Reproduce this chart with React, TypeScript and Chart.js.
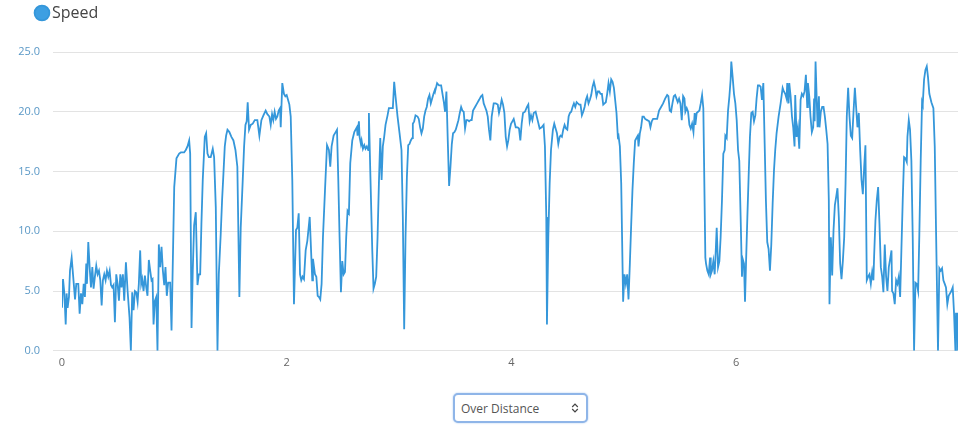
import React, { useEffect, useRef } from "react";
import { Chart, registerables } from "chart.js";

Chart.register(...registerables);

// Distance (x) values
const distance = [
  0.000,0.009,0.021,0.033,0.041,0.050,0.062,0.071,0.086,0.098,
  0.116,0.127,0.145,0.157,0.169,0.181,0.193,0.204,0.216,0.222,
  0.234,0.246,0.258,0.270,0.281,0.293,0.305,0.317,0.329,0.341,
  0.353,0.364,0.376,0.388,0.400,0.412,0.424,0.436,0.447,0.459,
  0.471,0.483,0.495,0.507,0.519,0.530,0.542,0.554,0.569,0.584,
  0.601,0.613,0.625,0.637,0.649,0.661,0.673,0.684,0.696,0.705,
  0.714,0.726,0.738,0.750,0.761,0.773,0.785,0.797,0.806,0.815,
  0.827,0.839,0.850,0.862,0.874,0.886,0.898,0.910,0.921,0.933,
  0.945,0.963,0.975,0.999,1.019,1.043,1.058,1.073,1.087,1.102,
  1.117,1.132,1.141,1.153,1.164,1.176,1.191,1.206,1.218,1.230,
  1.241,1.253,1.271,1.283,1.295,1.307,1.324,1.342,1.354,1.369,
  1.384,1.396,1.413,1.425,1.437,1.449,1.461,1.473,1.490,1.508,
  1.526,1.544,1.561,1.579,1.591,1.609,1.621,1.633,1.644,1.653,
  1.665,1.680,1.698,1.716,1.739,1.757,1.775,1.793,1.813,1.828,
  1.846,1.858,1.870,1.881,1.893,1.905,1.917,1.929,1.941,1.947,
  1.961,1.976,1.988,2.000,2.012,2.024,2.036,2.050,2.065,2.083,
  2.095,2.107,2.119,2.130,2.142,2.154,
  2.169,2.184,2.205,2.228,2.234,2.252,2.264,2.276,2.288,2.299,
  2.311,2.323,2.341,2.359,2.376,2.388,2.400,2.418,2.436,2.448,
  2.459,2.471,2.483,2.495,2.507,2.519,2.530,2.542,2.554,2.566,
  2.584,2.602,2.613,2.625,2.631,2.643,2.649,2.661,2.667,2.679,
  2.691,2.702,2.714,2.726,2.732,2.744,2.762,2.773,2.785,2.797,
  2.809,2.821,2.833,2.845,2.856,2.868,2.880,2.898,2.910,2.928,
  2.945,2.957,2.969,2.987,3.005,3.022,3.034,3.046,3.058,3.070,
  3.082,3.093,3.105,3.117,3.123,3.135,3.147,3.165,3.176,3.188,
  3.200,3.212,3.224,3.236,3.247,3.259,3.271,3.283,3.295,3.307,
  3.318,
  3.321,3.339,3.357,3.375,3.387,3.399,3.410,3.422,3.434,3.446,
  3.458,3.470,3.481,3.493,3.505,3.517,3.529,3.541,3.553,3.564,
  3.576,3.588,3.600,3.612,3.624,3.636,3.647,3.659,3.677,3.695,
  3.713,3.730,3.742,3.754,3.766,3.778,3.790,3.801,3.813,3.825,
  3.843,3.861,3.879,3.890,3.902,3.914,3.926,3.938,3.950,3.962,
  3.973,3.985,3.997,4.009,4.021,4.039,4.056,4.068,4.080,4.092,
  4.104,4.121,4.139,4.151,4.163,4.175,4.187,4.199,4.216,4.234,
  4.252,4.270,4.287,4.299,4.311,4.317,4.329,4.341,4.353,4.370,
  4.382,4.394,4.406,4.418,4.430,
  4.438,4.450,4.462,4.474,4.486,4.498,4.510,4.521,4.533,4.545,
  4.557,4.569,4.581,4.592,4.604,4.616,4.628,4.640,4.652,4.664,
  4.675,4.687,4.699,4.711,4.723,4.735,4.747,4.758,4.770,4.782,
  4.794,4.806,4.818,4.830,4.841,4.853,4.865,4.877,4.889,4.901,
  4.913,4.924,4.936,4.948,4.954,4.966,4.978,4.990,4.995,5.007,
  5.019,5.031,5.043,5.055,5.067,5.078,5.090,5.102,5.114,5.126,
  5.132,5.144,5.155,5.167,5.179,5.191,5.209,5.227,5.238,5.250,
  5.262,5.280,5.298,5.315,5.333,5.351,5.369,5.387,5.398,5.410,
  5.422,5.434,5.446,5.458,5.470,5.481,5.493,5.505,5.517,5.529,
  5.541,
  5.549,5.561,5.573,5.585,5.597,5.609,5.621,5.632,5.638,5.650,
  5.662,5.674,5.686,5.698,5.709,5.727,5.733,5.745,5.757,5.769,
  5.775,5.786,5.798,5.810,5.816,5.828,5.840,5.852,5.863,5.875,
  5.887,5.899,5.905,5.917,5.929,5.941,5.952,5.958,5.970,5.982,
  5.994,6.006,6.018,6.029,6.041,6.053,6.059,6.071,6.080,6.089,
  6.101,6.112,6.124,6.136,6.148,6.160,6.172,6.183,6.195,6.207,
  6.219,6.231,6.243,6.255,6.266,6.278,6.290,6.302,6.314,6.326,
  6.338,6.349,6.361,6.379,6.397,6.415,6.426,6.438,6.450,6.456,
  6.468,6.474,6.486,6.498,6.509,6.521,6.527,6.539,6.551,6.563,
  6.575,6.586,6.598,6.610,6.622,6.634,6.640,6.652,6.663,6.675,
  6.687,6.695,6.700,6.708,
  6.726,6.738,6.743,6.755,6.767,6.779,6.791,6.803,6.815,6.826,
  6.832,6.844,6.856,6.868,6.880,6.892,6.903,6.915,6.927,6.939,
  6.951,6.963,6.975,6.986,6.998,7.010,7.022,7.034,7.046,7.058,
  7.069,7.081,7.093,7.105,7.117,7.129,7.141,7.152,7.164,7.176,
  7.188,7.200,7.212,7.223,7.229,7.241,7.253,7.265,7.277,7.289,
  7.301,7.312,7.324,7.336,7.348,7.360,7.372,7.384,7.389,7.401,
  7.413,7.425,7.437,7.449,7.461,7.472,7.484,7.496,7.508,7.520,
  7.526,7.538,7.549,7.561,7.573,7.585,7.597,7.609,7.621,7.632,
  7.644,7.656,7.662,7.674,7.686,7.698,7.709,7.721,7.739,7.757,
  7.769,7.781,7.798,7.810,7.822,7.834,7.846,7.858,7.869,7.881,
  7.893,7.905,7.917,7.929,7.941,7.953,7.958,7.970,7.976,
];

// Speed (y) values
const speed = [
  3.6,6.0,4.8,2.2,4.8,3.6,4.5,6.7,7.8,6.4,
  4.3,5.6,5.6,3.1,4.8,3.9,5.6,4.5,7.3,5.6,
  9.1,7.0,5.3,7.0,5.2,6.2,7.1,6.4,6.7,5.9,
  3.8,5.9,6.4,5.9,6.7,6.2,6.7,5.5,5.3,5.5,
  2.4,6.4,5.6,4.2,6.4,5.3,6.4,4.2,7.4,5.0,
  2.8,0.0,4.9,3.4,5.0,4.9,4.1,5.6,8.4,5.6,
  6.0,5.0,6.3,5.3,4.6,7.6,6.7,5.9,6.0,2.2,
  4.2,4.5,0.0,8.9,7.0,8.7,6.7,5.5,7.0,4.6,
  5.7,5.7,1.7,13.7,16.1,16.5,16.6,16.6,16.6,16.8,
  17.1,17.6,16.5,1.9,6.7,10.5,11.6,5.5,6.4,6.4,
  10.6,14.3,17.9,18.2,16.5,16.2,16.2,16.9,16.2,12.0,
  0.0,6.4,9.8,12.6,14.8,17.1,18.0,18.5,18.3,17.9,
  17.6,16.8,15.4,4.5,10.3,14.3,17.1,18.9,19.2,20.8,
  18.5,18.9,19.0,19.3,19.3,18.0,19.3,19.7,20.1,19.8,
  19.6,18.9,19.8,19.3,20.0,19.4,19.6,20.1,20.3,18.7,
  22.4,21.5,21.3,21.4,21.0,20.6,19.6,14.3,3.9,10.1,
  10.3,11.5,6.4,5.9,6.2,6.0,
  8.4,9.2,11.2,5.9,7.7,6.4,6.2,4.6,4.5,4.3,
  5.6,9.5,13.4,17.2,16.8,15.4,17.1,18.0,18.3,18.5,
  14.5,9.5,4.9,7.5,6.4,6.6,9.5,11.7,11.5,15.7,
  17.6,18.3,18.5,18.7,18.0,19.2,17.9,17.3,17.6,16.9,
  17.2,16.9,17.1,16.8,19.9,15.1,8.4,5.2,5.6,6.2,
  9.5,14.0,17.8,14.3,17.1,17.9,18.9,19.7,20.3,20.3,
  20.3,22.5,21.3,19.6,18.2,16.8,11.2,1.8,9.5,14.5,
  17.2,17.3,17.6,17.8,19.0,19.2,19.7,19.6,19.4,18.7,
  18.2,18.6,19.6,20.1,20.4,21.1,21.4,20.7,21.1,21.5,
  21.8,
  21.7,22.4,22.2,22.2,21.5,20.8,20.0,21.7,17.6,13.8,
  15.4,17.3,18.2,18.3,18.5,18.9,19.3,19.9,20.4,20.1,
  20.0,18.6,19.3,19.3,19.2,19.3,19.3,20.1,20.4,20.7,
  21.0,21.3,21.4,20.7,20.4,20.1,19.6,18.5,17.6,19.6,
  20.7,20.7,20.6,19.9,20.4,21.0,20.6,19.9,17.9,17.1,
  17.6,18.5,19.0,19.2,19.4,18.7,18.7,18.6,17.6,19.0,
  19.9,20.0,20.4,20.6,19.2,19.7,19.3,19.9,20.0,19.3,
  18.6,18.7,18.9,17.1,11.2,2.2,9.5,14.0,16.8,18.5,
  19.0,18.6,18.2,17.3,17.9,
  18.0,17.9,18.5,18.9,18.6,18.5,19.6,19.9,20.0,20.4,
  20.7,20.4,20.8,20.7,20.6,20.6,19.7,20.0,20.4,21.0,
  21.3,20.7,21.0,21.4,22.1,22.5,22.0,21.3,21.7,21.7,
  21.5,21.5,20.6,20.7,20.8,21.5,22.4,21.7,22.7,22.5,
  22.0,21.0,19.9,17.9,18.0,17.1,14.0,7.0,4.1,6.4,
  5.6,6.4,4.3,7.3,10.6,13.4,15.7,17.6,17.8,18.0,
  17.1,18.2,18.7,19.6,19.6,19.4,19.3,19.2,18.7,19.2,
  19.4,19.4,19.4,20.1,20.4,20.7,21.1,21.4,21.3,20.1,
  20.0,20.7,21.3,21.4,21.1,20.8,21.1,20.7,19.3,21.3,
  21.1,
  20.0,20.3,20.0,18.9,18.6,19.0,18.3,19.9,18.9,19.9,
  20.0,20.1,20.7,21.4,20.3,7.8,7.3,6.7,6.4,7.8,
  6.4,6.7,7.5,6.4,7.6,10.3,7.0,7.5,9.5,12.6,
  16.5,16.8,18.0,17.8,20.1,21.3,22.7,24.2,22.9,21.5,
  20.7,19.3,16.8,15.9,11.2,6.2,7.7,7.3,4.1,7.3,
  11.2,14.5,17.9,19.9,20.0,19.2,19.7,21.1,22.2,22.2,
  22.1,21.0,22.4,17.3,12.6,9.1,8.5,6.7,8.9,12.3,
  15.1,16.8,18.2,19.6,20.7,22.0,21.7,21.5,21.1,22.4,
  20.7,22.4,21.3,19.6,18.7,17.1,21.4,17.9,18.7,16.9,
  21.0,21.5,21.3,21.7,23.1,20.4,22.4,21.3,19.6,18.3,
  18.7,21.1,19.2,24.2,
  18.7,21.3,18.7,20.0,20.4,20.4,19.6,18.5,17.3,12.6,
  3.9,9.5,6.3,10.1,12.2,12.9,13.6,11.2,7.3,6.0,
  7.5,9.5,14.0,19.6,22.0,19.6,18.0,17.8,20.0,22.0,
  20.4,18.7,19.9,16.8,14.3,13.1,15.4,17.2,5.9,6.2,
  6.4,5.6,6.6,5.9,7.8,10.9,12.6,13.7,10.6,7.0,
  6.2,4.9,8.9,6.2,5.0,7.0,7.7,8.4,5.0,4.8,
  3.9,5.9,5.6,6.2,4.5,8.4,12.6,16.2,16.1,15.8,
  17.9,19.3,18.5,15.9,9.5,0.0,5.7,5.6,5.0,9.8,
  15.9,20.8,20.6,22.7,23.5,23.8,22.9,21.5,20.8,20.3,
  17.1,9.8,0.0,6.9,6.7,6.9,5.9,5.6,5.3,3.9,
  4.6,4.8,5.0,5.3,3.1,0.0,3.1,3.1,0.0,
];

const seriesLabel = "Speed";
const yMin = 0;
const yMax = 25;
const yStep = 5;
const xStep = 2;
const viewOptions = ["Over Distance", "Over Time"];

const FONT = "'Open Sans', 'Noto Sans', sans-serif";

// Moves the legend box after layout so it can sit closer to the top-left corner
const legendNudge = {
  id: "legendNudge",
  afterLayout(chart: any, _args: any, opts: any) {
    const lg = chart.legend;
    if (!lg) return;
    const dx = (opts && opts.dx) || 0;
    const dy = (opts && opts.dy) || 0;
    lg.left += dx;
    lg.right += dx;
    lg.top += dy;
    lg.bottom += dy;
  },
};

export default function App() {
  const canvasRef = useRef<HTMLCanvasElement | null>(null);

  useEffect(() => {
    const canvas = canvasRef.current;
    if (!canvas) return;
    const points = distance.map((d, i) => ({ x: d, y: speed[i] }));
    const chart = new Chart(canvas, {
      type: "line",
      data: {
        datasets: [
          {
            label: seriesLabel,
            data: points,
            borderColor: "#3597da",
            backgroundColor: "#3d9fe2",
            borderWidth: 1.8,
            pointRadius: 0,
            pointHoverRadius: 0,
            tension: 0,
            fill: false,
          },
        ],
      },
      options: {
        animation: false,
        responsive: false,
        layout: { padding: { left: 16, right: 22, top: 0, bottom: 6 } },
        plugins: {
          legend: {
            display: true,
            position: "top",
            align: "start",
            labels: {
              usePointStyle: true,
              pointStyle: "circle",
              boxWidth: 4,
              boxHeight: 10.5,
              padding: 26,
              color: "#444",
              font: { family: FONT, size: 16 },
            },
          },
          tooltip: { enabled: false },
          legendNudge: { dx: -2, dy: -21 },
        } as any,
        scales: {
          x: {
            type: "linear",
            min: 0,
            max: distance[distance.length - 1],
            grid: { display: false, drawTicks: false },
            border: { display: false },
            ticks: {
              stepSize: xStep,
              includeBounds: false,
              padding: 5,
              color: "#666",
              font: { family: FONT, size: 11 },
            },
          },
          y: {
            min: yMin,
            max: yMax,
            grid: { color: "#e3e3e3", lineWidth: 1, tickLength: 9 },
            border: { display: false },
            ticks: {
              stepSize: yStep,
              padding: 13,
              color: "#5a98c6",
              font: { family: FONT, size: 11 },
              callback: (v: any) => Number(v).toFixed(1),
            },
            afterFit: (s: any) => {
              s.width = 46;
            },
          },
        },
      },
      plugins: [legendNudge],
    });
    return () => chart.destroy();
  }, []);

  const arrow =
    "url(\"data:image/svg+xml;utf8,<svg xmlns='http://www.w3.org/2000/svg' width='8' height='10'><path d='M1.2 4 L4 1.2 L6.8 4 M1.2 6 L4 8.8 L6.8 6' fill='none' stroke='%23444' stroke-width='1.2'/></svg>\")";

  return (
    <div style={{ position: "absolute", left: 0, top: 0, width: 980, height: 432, background: "#fff" }}>
      <canvas ref={canvasRef} width={980} height={380} style={{ display: "block", width: 980, height: 380 }} />
      <select
        defaultValue={viewOptions[0]}
        style={{
          position: "absolute",
          left: 453,
          top: 393,
          width: 135,
          height: 30,
          boxSizing: "border-box",
          border: "2px solid #8fb5e8",
          boxShadow: "0 0 2px #a9c8f0",
          borderRadius: 5,
          background: "#fff",
          backgroundImage: arrow,
          backgroundRepeat: "no-repeat",
          backgroundPosition: "right 7px center",
          appearance: "none",
          WebkitAppearance: "none",
          paddingLeft: 6,
          fontFamily: FONT,
          fontSize: 12,
          color: "#555",
          outline: "none",
        }}
      >
        {viewOptions.map((o) => (
          <option key={o} value={o}>
            {o}
          </option>
        ))}
      </select>
    </div>
  );
}
